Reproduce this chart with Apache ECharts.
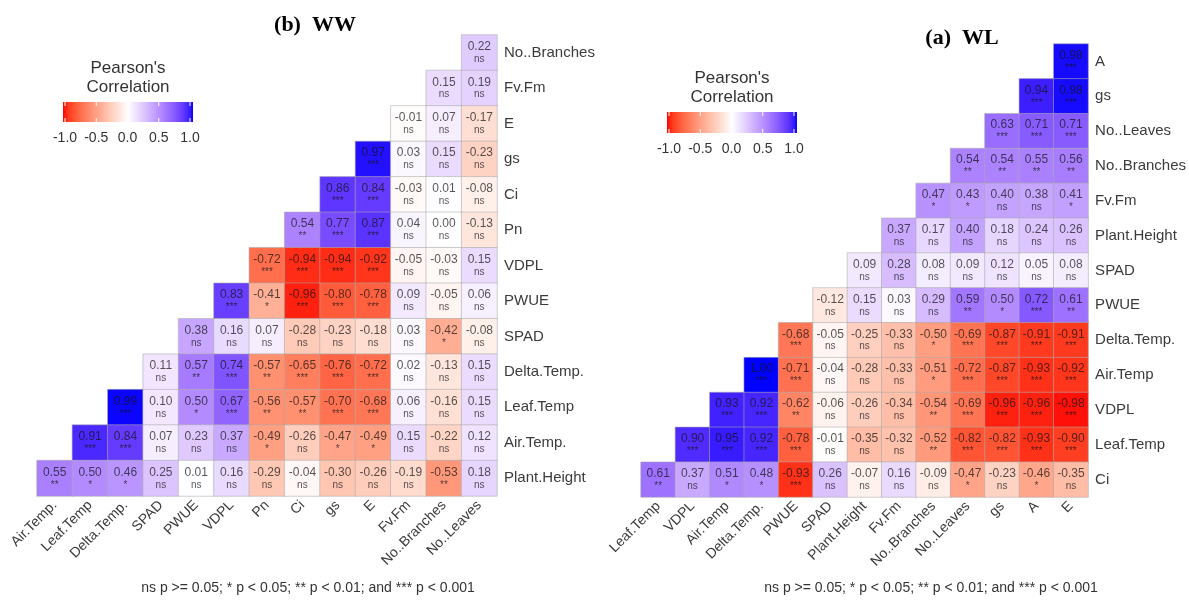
<!DOCTYPE html>
<html>
<head>
<meta charset="utf-8">
<script src="https://cdn.jsdelivr.net/npm/echarts@6/dist/echarts.min.js"></script>
<style>
  html, body { margin: 0; padding: 0; background: #ffffff; }
  #chart { width: 1189px; height: 601px; }
</style>
</head>
<body>
<div id="chart"></div>
<script>
// ---------- WW panel ----------
const wwCols = ['Air.Temp.', 'Leaf.Temp', 'Delta.Temp.', 'SPAD', 'PWUE', 'VDPL', 'Pn', 'Ci', 'gs', 'E', 'Fv.Fm', 'No..Branches', 'No..Leaves'];
const wwRows = ['No..Branches', 'Fv.Fm', 'E', 'gs', 'Ci', 'Pn', 'VDPL', 'PWUE', 'SPAD', 'Delta.Temp.', 'Leaf.Temp', 'Air.Temp.', 'Plant.Height'];
// each row lists its values for the right-most columns (lower triangle)
const wwR = [
  [0.22],
  [0.15, 0.19],
  [-0.01, 0.07, -0.17],
  [0.97, 0.03, 0.15, -0.23],
  [0.86, 0.84, -0.03, 0.01, -0.08],
  [0.54, 0.77, 0.87, 0.04, 0.00, -0.13],
  [-0.72, -0.94, -0.94, -0.92, -0.05, -0.03, 0.15],
  [0.83, -0.41, -0.96, -0.80, -0.78, 0.09, -0.05, 0.06],
  [0.38, 0.16, 0.07, -0.28, -0.23, -0.18, 0.03, -0.42, -0.08],
  [0.11, 0.57, 0.74, -0.57, -0.65, -0.76, -0.72, 0.02, -0.13, 0.15],
  [0.99, 0.10, 0.50, 0.67, -0.56, -0.57, -0.70, -0.68, 0.06, -0.16, 0.15],
  [0.91, 0.84, 0.07, 0.23, 0.37, -0.49, -0.26, -0.47, -0.49, 0.15, -0.22, 0.12],
  [0.55, 0.50, 0.46, 0.25, 0.01, 0.16, -0.29, -0.04, -0.30, -0.26, -0.19, -0.53, 0.18]
];
const wwP = [
  ['ns'],
  ['ns', 'ns'],
  ['ns', 'ns', 'ns'],
  ['***', 'ns', 'ns', 'ns'],
  ['***', '***', 'ns', 'ns', 'ns'],
  ['**', '***', '***', 'ns', 'ns', 'ns'],
  ['***', '***', '***', '***', 'ns', 'ns', 'ns'],
  ['***', '*', '***', '***', '***', 'ns', 'ns', 'ns'],
  ['ns', 'ns', 'ns', 'ns', 'ns', 'ns', 'ns', '*', 'ns'],
  ['ns', '**', '***', '**', '***', '***', '***', 'ns', 'ns', 'ns'],
  ['***', 'ns', '*', '***', '**', '**', '***', '***', 'ns', 'ns', 'ns'],
  ['***', '***', 'ns', 'ns', 'ns', '*', 'ns', '*', '*', 'ns', 'ns', 'ns'],
  ['**', '*', '*', 'ns', 'ns', 'ns', 'ns', 'ns', 'ns', 'ns', 'ns', '**', 'ns']
];

// ---------- WL panel ----------
const wlCols = ['Leaf.Temp', 'VDPL', 'Air.Temp', 'Delta.Temp.', 'PWUE', 'SPAD', 'Plant.Height', 'Fv.Fm', 'No..Branches', 'No..Leaves', 'gs', 'A', 'E'];
const wlRows = ['A', 'gs', 'No..Leaves', 'No..Branches', 'Fv.Fm', 'Plant.Height', 'SPAD', 'PWUE', 'Delta.Temp.', 'Air.Temp', 'VDPL', 'Leaf.Temp', 'Ci'];
const wlR = [
  [0.98],
  [0.94, 0.98],
  [0.63, 0.71, 0.71],
  [0.54, 0.54, 0.55, 0.56],
  [0.47, 0.43, 0.40, 0.38, 0.41],
  [0.37, 0.17, 0.40, 0.18, 0.24, 0.26],
  [0.09, 0.28, 0.08, 0.09, 0.12, 0.05, 0.08],
  [-0.12, 0.15, 0.03, 0.29, 0.59, 0.50, 0.72, 0.61],
  [-0.68, -0.05, -0.25, -0.33, -0.50, -0.69, -0.87, -0.91, -0.91],
  [1.00, -0.71, -0.04, -0.28, -0.33, -0.51, -0.72, -0.87, -0.93, -0.92],
  [0.93, 0.92, -0.62, -0.06, -0.26, -0.34, -0.54, -0.69, -0.96, -0.96, -0.98],
  [0.90, 0.95, 0.92, -0.78, -0.01, -0.35, -0.32, -0.52, -0.82, -0.82, -0.93, -0.90],
  [0.61, 0.37, 0.51, 0.48, -0.93, 0.26, -0.07, 0.16, -0.09, -0.47, -0.23, -0.46, -0.35]
];
const wlP = [
  ['***'],
  ['***', '***'],
  ['***', '***', '***'],
  ['**', '**', '**', '**'],
  ['*', '*', 'ns', 'ns', '*'],
  ['ns', 'ns', 'ns', 'ns', 'ns', 'ns'],
  ['ns', 'ns', 'ns', 'ns', 'ns', 'ns', 'ns'],
  ['ns', 'ns', 'ns', 'ns', '**', '*', '***', '**'],
  ['***', 'ns', 'ns', 'ns', '*', '***', '***', '***', '***'],
  ['***', '***', 'ns', 'ns', 'ns', '*', '***', '***', '***', '***'],
  ['***', '***', '**', 'ns', 'ns', 'ns', '**', '***', '***', '***', '***'],
  ['***', '***', '***', '***', 'ns', 'ns', 'ns', '**', '***', '***', '***', '***'],
  ['**', 'ns', '*', '*', '***', 'ns', 'ns', 'ns', 'ns', '*', 'ns', '*', 'ns']
];

const legendTicks = [-1.0, -0.5, 0.0, 0.5, 1.0];
const noteText = 'ns p >= 0.05; * p < 0.05; ** p < 0.01; and *** p < 0.001';

// ---------- diverging red-white-blue scale interpolated in CIELAB ----------
function toLin(c) { c /= 255; return c <= 0.04045 ? c / 12.92 : Math.pow((c + 0.055) / 1.055, 2.4); }
function toByte(c) {
  c = c <= 0.0031308 ? 12.92 * c : 1.055 * Math.pow(c, 1 / 2.4) - 0.055;
  return Math.round(Math.max(0, Math.min(1, c)) * 255);
}
function rgbToLab(rgb) {
  const R = toLin(rgb[0]), G = toLin(rgb[1]), B = toLin(rgb[2]);
  const X = (0.4124 * R + 0.3576 * G + 0.1805 * B) / 0.95047;
  const Y = (0.2126 * R + 0.7152 * G + 0.0722 * B);
  const Z = (0.0193 * R + 0.1192 * G + 0.9505 * B) / 1.08883;
  const f = t => t > 0.008856 ? Math.cbrt(t) : 7.787 * t + 16 / 116;
  return [116 * f(Y) - 16, 500 * (f(X) - f(Y)), 200 * (f(Y) - f(Z))];
}
function labToRgb(lab) {
  const fy = (lab[0] + 16) / 116, fx = fy + lab[1] / 500, fz = fy - lab[2] / 200;
  const g = t => t > 0.206893 ? t * t * t : (t - 16 / 116) / 7.787;
  const X = g(fx) * 0.95047, Y = g(fy), Z = g(fz) * 1.08883;
  const R = 3.2406 * X - 1.5372 * Y - 0.4986 * Z;
  const G = -0.9689 * X + 1.8758 * Y + 0.0415 * Z;
  const B = 0.0557 * X - 0.2040 * Y + 1.0570 * Z;
  return 'rgb(' + toByte(R) + ',' + toByte(G) + ',' + toByte(B) + ')';
}
const labLow = rgbToLab([255, 0, 0]), labMid = rgbToLab([255, 255, 255]), labHigh = rgbToLab([0, 0, 255]);
function scaleColor(v) {
  const end = v < 0 ? labLow : labHigh, t = Math.abs(v);
  return labToRgb([0, 1, 2].map(k => labMid[k] + (end[k] - labMid[k]) * t));
}
const nStops = 40;
const scaleStops = [];
for (let i = 0; i <= nStops; i++) scaleStops.push(scaleColor(-1 + 2 * i / nStops));

// ---------- build heatmap items ----------
function cells(vals, sigs, nCols) {
  const out = [];
  vals.forEach((row, r) => {
    const off = nCols - row.length;
    row.forEach((v, j) => out.push({ value: [off + j, r, v], sig: sigs[r][j] }));
  });
  return out;
}

const sans = 'Liberation Sans, Arial, sans-serif';
const axisTextColor = '#3b3b3b';
function xAxisFor(cats, gi) {
  return {
    type: 'category', data: cats, gridIndex: gi, position: 'bottom',
    axisLine: { show: false }, axisTick: { show: false }, splitLine: { show: false },
    axisLabel: { rotate: 45, margin: 7, fontSize: 14, color: axisTextColor, fontFamily: sans, interval: 0 }
  };
}
function yAxisFor(cats, gi) {
  return {
    type: 'category', data: cats, gridIndex: gi, position: 'right', inverse: true,
    axisLine: { show: false }, axisTick: { show: false }, splitLine: { show: false },
    axisLabel: { margin: 7, fontSize: 15, color: axisTextColor, fontFamily: sans, interval: 0 }
  };
}
function seriesFor(data, gi) {
  return {
    type: 'heatmap', xAxisIndex: gi, yAxisIndex: gi, data: data,
    itemStyle: { borderColor: 'rgba(170,170,170,0.55)', borderWidth: 1 },
    emphasis: { disabled: true },
    label: {
      show: true,
      formatter: p => '{v|' + p.data.value[2].toFixed(2) + '}\n{s|' + p.data.sig + '}',
      rich: {
        v: { fontSize: 12, lineHeight: 13, color: 'rgba(20,20,20,0.72)', fontFamily: sans },
        s: { fontSize: 10, lineHeight: 12, color: 'rgba(20,20,20,0.72)', fontFamily: sans }
      }
    }
  };
}

// ---------- colour-bar legends, titles and notes ----------
function colorBar(cx, barTop, h) {
  const w = 130, x0 = cx - w / 2;
  const stops = scaleStops.map((c, i) => ({ offset: i / nStops, color: c }));
  const els = [
    { type: 'text', style: { text: "Pearson's\nCorrelation", x: cx, y: barTop - 24, align: 'center', verticalAlign: 'middle', fontSize: 17, lineHeight: 19, fill: '#333', fontFamily: sans } },
    { type: 'rect', shape: { x: x0, y: barTop, width: w, height: h }, style: { fill: new echarts.graphic.LinearGradient(0, 0, 1, 0, stops) } }
  ];
  const tx0 = x0 + 2, tw = w - 5;
  legendTicks.forEach(t => {
    const tx = tx0 + (t + 1) / 2 * tw;
    els.push({ type: 'line', shape: { x1: tx, y1: barTop, x2: tx, y2: barTop + 4 }, style: { stroke: '#fff', lineWidth: 1 } });
    els.push({ type: 'line', shape: { x1: tx, y1: barTop + h - 4, x2: tx, y2: barTop + h }, style: { stroke: '#fff', lineWidth: 1 } });
    els.push({ type: 'text', style: { text: t.toFixed(1), x: tx, y: barTop + h + 16, align: 'center', verticalAlign: 'middle', fontSize: 14, fill: '#333', fontFamily: sans } });
  });
  return els;
}
function heading(text, x, y) {
  return { type: 'text', style: { text: text, x: x, y: y, align: 'center', verticalAlign: 'middle', fontSize: 22, fontWeight: 'bold', fill: '#000', fontFamily: 'Liberation Serif, Times New Roman, serif' } };
}
function note(x, y) {
  return { type: 'text', style: { text: noteText, x: x, y: y, align: 'center', verticalAlign: 'middle', fontSize: 14, fill: '#333', fontFamily: sans } };
}

const chart = echarts.init(document.getElementById('chart'), null, { renderer: 'canvas' });
chart.setOption({
  backgroundColor: '#ffffff',
  animation: false,
  grid: [
    { left: 37, top: 35, width: 460, height: 461 },
    { left: 641, top: 44, width: 451, height: 453 }
  ],
  xAxis: [xAxisFor(wwCols, 0), xAxisFor(wlCols, 1)],
  yAxis: [yAxisFor(wwRows, 0), yAxisFor(wlRows, 1)],
  visualMap: {
    show: false, type: 'continuous', min: -1, max: 1, dimension: 2,
    seriesIndex: [0, 1], inRange: { color: scaleStops }
  },
  series: [
    seriesFor(cells(wwR, wwP, wwCols.length), 0),
    seriesFor(cells(wlR, wlP, wlCols.length), 1)
  ],
  graphic: [
    heading('(b)  WW', 315, 25),
    heading('(a)  WL', 962, 38),
    ...colorBar(128, 102, 20),
    ...colorBar(732, 112, 21),
    note(308, 588),
    note(931, 588)
  ]
});
</script>
</body>
</html>
